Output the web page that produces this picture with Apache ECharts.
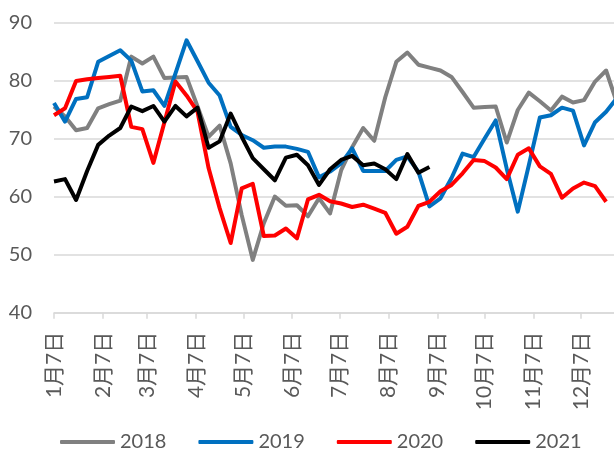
<!DOCTYPE html>
<html>
<head>
<meta charset="utf-8">
<script src="https://cdn.jsdelivr.net/npm/echarts@6/dist/echarts.min.js"></script>
<style>
html,body{margin:0;padding:0;background:#fff;}
#chart{width:614px;height:450px;}
</style>
</head>
<body>
<div id="chart"></div>
<script>
// Month tick labels and their day offsets from 1月7日
const monthLabels = ['1月7日','2月7日','3月7日','4月7日','5月7日','6月7日','7月7日','8月7日','9月7日','10月7日','11月7日','12月7日'];
const monthDays = [0,31,59,90,120,151,181,212,243,273,304,334];
const weekStep = 7; // days between consecutive weekly points

const s2018 = [75.5,73.8,71.4,71.8,75.2,75.9,76.5,84.1,82.9,84.1,80.4,80.5,80.6,75.5,70.3,72.2,65.7,56.8,49.1,55.4,60.0,58.4,58.5,56.6,59.7,57.1,64.5,68.5,71.8,69.6,77.1,83.2,84.8,82.7,82.2,81.7,80.6,78.0,75.3,75.4,75.5,69.3,74.9,77.9,76.4,74.8,77.2,76.2,76.6,79.8,81.7,76.0];
const s2019 = [76.1,72.9,76.8,77.1,83.2,84.2,85.2,83.4,78.1,78.3,75.6,81.2,86.9,83.3,79.6,77.4,72.0,70.6,69.7,68.4,68.6,68.6,68.2,67.7,63.3,64.3,65.7,68.3,64.4,64.4,64.4,66.3,66.9,64.3,58.3,59.7,63.2,67.4,66.8,70.0,73.1,64.8,57.4,65.4,73.6,74.0,75.3,74.8,68.8,72.8,74.6,77.0];
const s2020 = [74.0,75.2,79.9,80.2,80.4,80.6,80.8,72.0,71.6,65.8,72.8,79.8,77.4,74.6,64.9,58.0,52.0,61.4,62.2,53.2,53.3,54.5,52.8,59.5,60.3,59.2,58.8,58.2,58.6,57.9,57.2,53.6,54.8,58.4,59.1,60.9,62.0,64.0,66.3,66.1,65.0,63.0,67.2,68.3,65.2,63.9,59.8,61.4,62.4,61.8,59.1];
const s2021 = [62.6,63.0,59.4,64.4,68.9,70.5,71.8,75.5,74.7,75.6,72.9,75.6,73.8,75.3,68.4,69.5,74.3,70.3,66.6,64.7,62.8,66.7,67.2,65.4,62.0,64.7,66.3,67.0,65.4,65.7,64.7,63.0,67.3,64.1,65.1];

const seriesNames = ['2018','2019','2020','2021'];
const seriesValues = [s2018, s2019, s2020, s2021];
const seriesColors = ['#808080','#0070C0','#FF0000','#000000'];

const toPairs = arr => arr.map((v, i) => [i * weekStep, v]);

const txt = '#595959';
const gridColor = '#D9D9D9';
const font = 'Lato, "Noto Sans CJK SC", sans-serif';

const chart = echarts.init(document.getElementById('chart'), null, {renderer: 'canvas'});
chart.setOption({
  animation: false,
  backgroundColor: '#fff',
  grid: {left: 54, right: 0, top: 22.3, bottom: 137.3, containLabel: false},
  legend: {
    data: seriesNames,
    left: 55,
    top: 427,
    itemWidth: 55,
    itemHeight: 4,
    itemGap: 32,
    icon: 'roundRect',
    textStyle: {color: txt, fontSize: 20, fontFamily: font, lineHeight: 20}
  },
  xAxis: {
    type: 'value',
    min: 0,
    max: 355,
    axisLine: {show: true, lineStyle: {color: gridColor, width: 1.5}},
    axisTick: {show: true, length: 6, lineStyle: {color: gridColor, width: 1.5}, customValues: monthDays},
    splitLine: {show: false},
    axisLabel: {
      customValues: monthDays,
      rotate: 90,
      margin: 19,
      color: txt,
      fontSize: 21,
      fontFamily: font,
      formatter: function (v) {
        const k = monthDays.indexOf(Math.round(v));
        return k >= 0 ? monthLabels[k] : '';
      }
    }
  },
  yAxis: {
    type: 'value',
    min: 40,
    max: 90,
    interval: 10,
    axisLine: {show: false},
    axisTick: {show: false},
    axisLabel: {color: txt, fontSize: 20, fontFamily: font, margin: 22},
    splitLine: {show: true, lineStyle: {color: gridColor, width: 1.5}}
  },
  series: seriesNames.map((name, k) => ({
    name: name,
    type: 'line',
    data: toPairs(seriesValues[k]),
    symbol: 'none',
    showSymbol: false,
    clip: true,
    color: seriesColors[k],
    lineStyle: {color: seriesColors[k], width: 4, join: 'round'},
    itemStyle: {color: seriesColors[k]}
  }))
});
</script>
</body>
</html>
